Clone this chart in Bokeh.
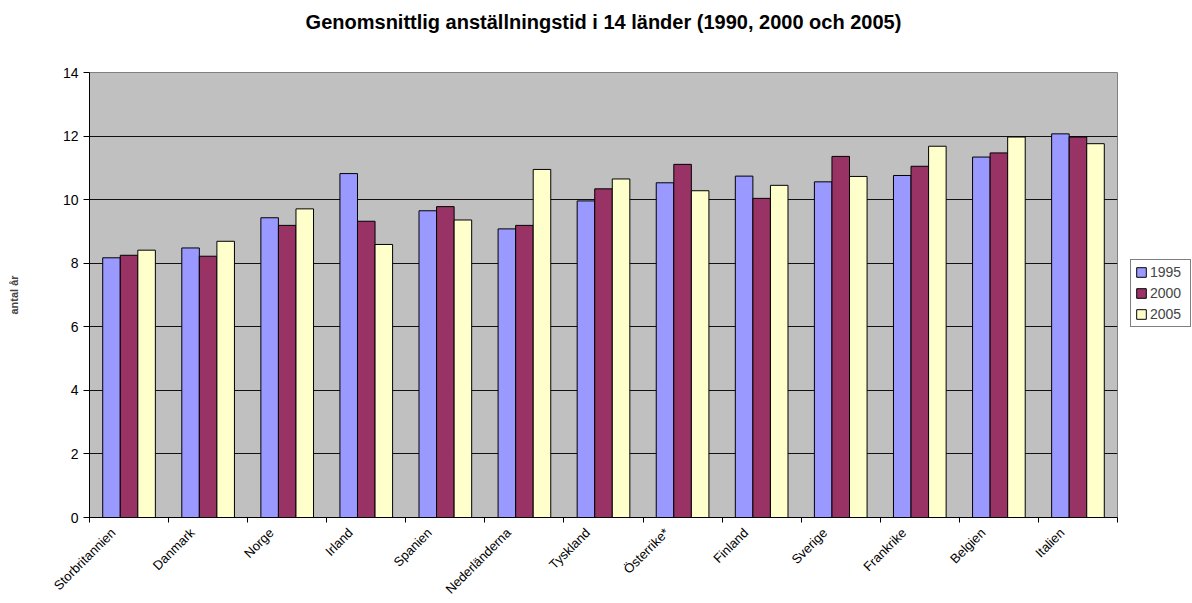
import math
from bokeh.plotting import figure
from bokeh.layouts import row
from bokeh.models import (ColumnDataSource, Range1d, FixedTicker, LinearAxis, Legend, LegendItem,
                          CustomJSTickFormatter)
from bokeh.transform import dodge
from bokeh.embed import file_html
from bokeh.resources import INLINE

countries = ["Storbritannien", "Danmark", "Norge", "Irland", "Spanien", "Nederländerna",
             "Tyskland", "Österrike*", "Finland", "Sverige", "Frankrike", "Belgien", "Italien"]
v1995 = [8.17, 8.48, 9.43, 10.82, 9.65, 9.08, 9.96, 10.53, 10.74, 10.56, 10.76, 11.34, 12.07]
v2000 = [8.25, 8.22, 9.19, 9.32, 9.78, 9.19, 10.34, 11.11, 10.04, 11.36, 11.05, 11.47, 11.97]
v2005 = [8.41, 8.69, 9.71, 8.59, 9.36, 10.95, 10.65, 10.28, 10.45, 10.73, 11.68, 11.97, 11.76]
series = ["1995", "2000", "2005"]
colors = ["#9999FF", "#993366", "#FFFFCC"]
y_ticks = [0, 2, 4, 6, 8, 10, 12, 14]
title_text = "Genomsnittlig anställningstid i 14 länder (1990, 2000 och 2005)"
y_label = "antal år"

FONT = "Liberation Sans"
n = len(countries)

src = ColumnDataSource(dict(country=countries, xc=[i + 0.5 for i in range(n)],
                            s1995=v1995, s2000=v2000, s2005=v2005))

p = figure(x_range=Range1d(0, n), y_range=Range1d(0, 14), title=None,
           frame_width=1028, frame_height=445, output_backend="svg", toolbar_location=None,
           x_axis_location=None,
           min_border_left=89, min_border_right=13,
           min_border_top=72, min_border_bottom=86)

p.background_fill_color = "#C0C0C0"
p.border_fill_color = "white"
p.outline_line_color = "#808080"
p.outline_line_width = 1

# chart title, carried by a tick-less axis above the frame
top_axis = LinearAxis(ticker=FixedTicker(ticks=[]), axis_line_color=None,
                      major_tick_line_color=None, minor_tick_line_color=None,
                      major_tick_out=0, major_tick_in=0, minor_tick_out=0, minor_tick_in=0,
                      major_label_standoff=0,
                      axis_label=title_text, axis_label_standoff=40,
                      axis_label_text_font=FONT, axis_label_text_font_size="20px",
                      axis_label_text_font_style="bold", axis_label_text_color="black")
p.add_layout(top_axis, "above")

# y axis
ya = p.yaxis[0]
ya.ticker = FixedTicker(ticks=y_ticks)
ya.axis_line_color = "black"
ya.major_tick_out = 6
ya.major_tick_in = 0
ya.minor_tick_line_color = None
ya.major_label_standoff = 5
ya.major_label_text_font = FONT
ya.major_label_text_font_size = "14px"
ya.major_label_text_color = "black"
ya.axis_label = y_label
ya.axis_label_text_font = FONT
ya.axis_label_text_font_size = "11px"
ya.axis_label_text_font_style = "bold"
ya.axis_label_standoff = 40

p.ygrid.ticker = FixedTicker(ticks=y_ticks[1:-1])
p.ygrid.grid_line_color = "#111111"
p.xgrid.visible = False

# x axis: country names (major, no tick mark) and group boundaries (minor tick marks)
label_shift = 0.2
xa = LinearAxis(ticker=FixedTicker(ticks=[round(i + 0.5 - label_shift, 3) for i in range(n)],
                                   minor_ticks=list(range(n + 1))),
                formatter=CustomJSTickFormatter(args=dict(names=countries),
                                                code="return names[index];"))
xa.axis_line_color = "black"
xa.major_tick_line_color = None
xa.major_tick_out = 5
xa.major_tick_in = 0
xa.minor_tick_line_color = "black"
xa.minor_tick_out = 5
xa.minor_tick_in = 0
xa.major_label_orientation = math.pi / 4
xa.major_label_standoff = 8
xa.major_label_text_font = FONT
xa.major_label_text_font_size = "13px"
xa.major_label_text_color = "black"
p.add_layout(xa, "below")

# bars
bw = 0.222
for i, (name, col) in enumerate(zip(series, colors)):
    p.vbar(x=dodge("xc", (i - 1) * bw), top="s" + name, width=bw,
           source=src, fill_color=col, line_color="black", line_width=1)

# legend panel to the right of the chart (its frame is aligned with the chart's frame)
lf = figure(width=62, height=603, x_range=Range1d(-10, -9), y_range=Range1d(0, 1), title=None,
            output_backend="svg", toolbar_location=None,
            x_axis_location=None, y_axis_location=None,
            min_border_left=0, min_border_right=0, min_border_top=72, min_border_bottom=86)
lf.outline_line_color = None
lf.background_fill_color = "white"
lf.border_fill_color = "white"
lf.xgrid.visible = False
lf.ygrid.visible = False
legend_renderers = [lf.vbar(x="xc", top="s" + name, width=bw, source=src,
                            fill_color=col, line_color="black", line_width=1)
                    for name, col in zip(series, colors)]
legend = Legend(items=[LegendItem(label=s, renderers=[r])
                       for s, r in zip(series, legend_renderers)],
                location=(0, 189), orientation="vertical",
                border_line_color="black", border_line_width=1,
                background_fill_color="white", background_fill_alpha=1,
                label_text_font=FONT, label_text_font_size="14px",
                glyph_width=12, glyph_height=12, label_height=15, label_width=36,
                label_standoff=3, spacing=5, padding=4, margin=0)
lf.add_layout(legend)

layout = row(p, lf, spacing=0)
open("out.html", "w").write(file_html(layout, INLINE))
